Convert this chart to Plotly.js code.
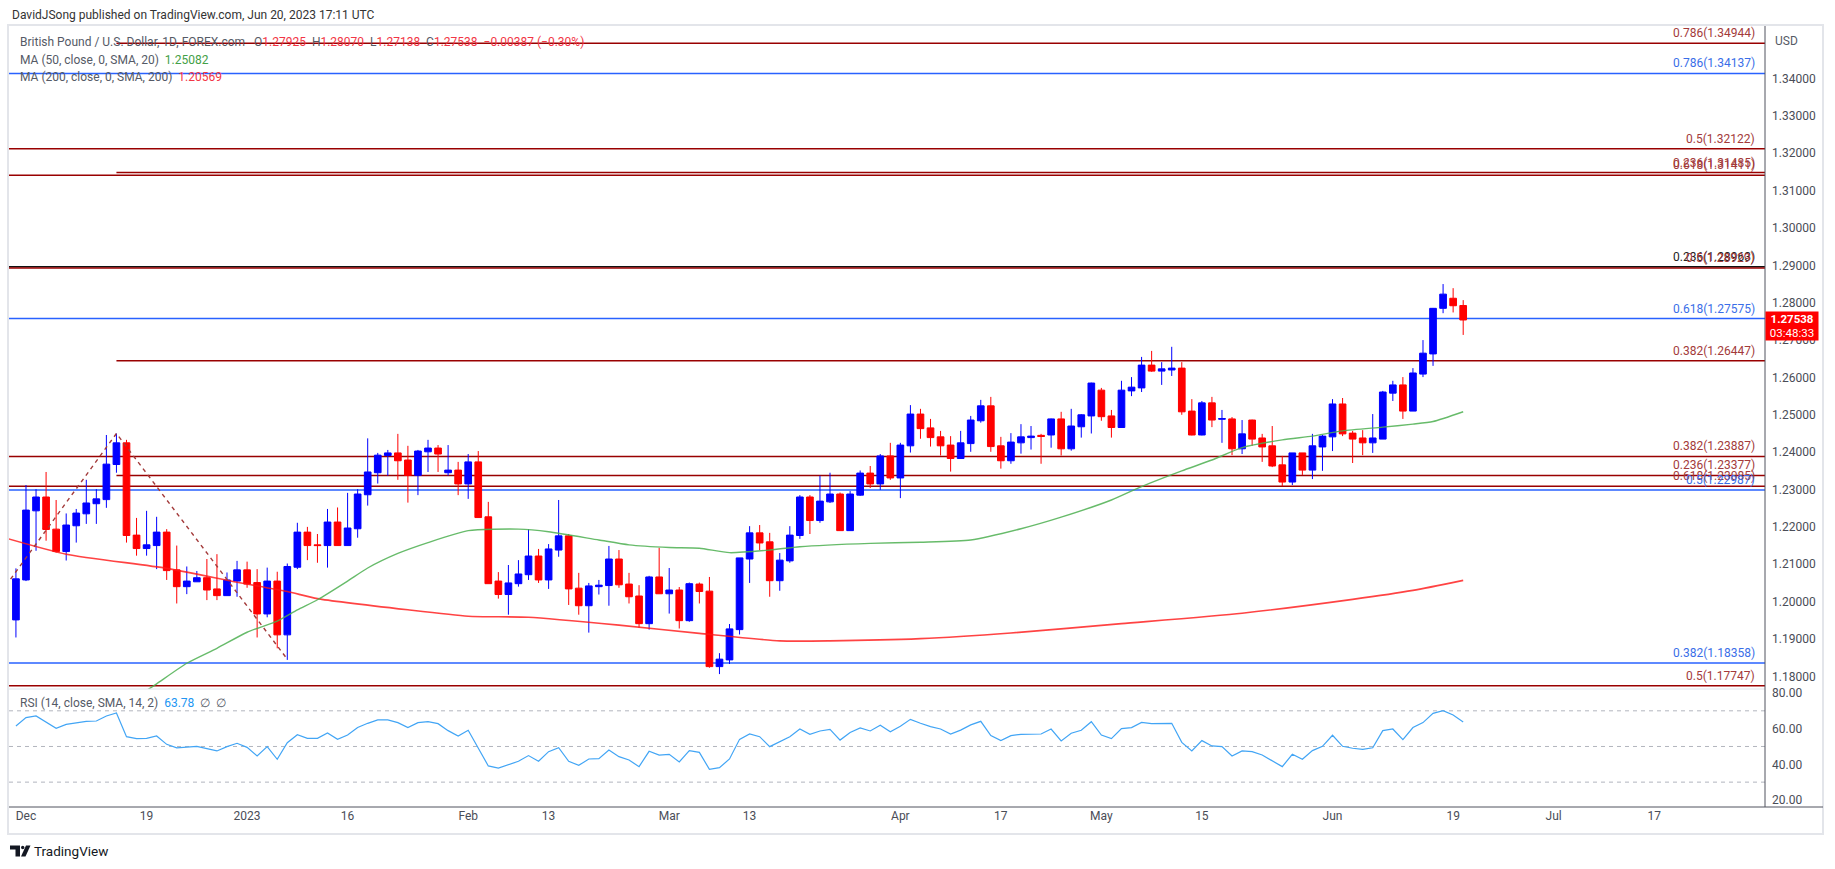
<!DOCTYPE html>
<html><head><meta charset="utf-8">
<script src="https://cdn.plot.ly/plotly-3.0.1.min.js"></script>
<style>html,body{margin:0;padding:0;background:#fff;}#chart{width:1835px;height:869px;}</style>
</head><body><div id="chart"></div>
<script>
// ---------------- DATA ----------------
const dates = ['2022-11-30',
'2022-12-01','2022-12-02','2022-12-05','2022-12-06','2022-12-07','2022-12-08','2022-12-09','2022-12-12','2022-12-13','2022-12-14','2022-12-15','2022-12-16','2022-12-19','2022-12-20','2022-12-21','2022-12-22','2022-12-23','2022-12-26','2022-12-27','2022-12-28','2022-12-29','2022-12-30',
'2023-01-02','2023-01-03','2023-01-04','2023-01-05','2023-01-06','2023-01-09','2023-01-10','2023-01-11','2023-01-12','2023-01-13','2023-01-16','2023-01-17','2023-01-18','2023-01-19','2023-01-20','2023-01-23','2023-01-24','2023-01-25','2023-01-26','2023-01-27','2023-01-30','2023-01-31',
'2023-02-01','2023-02-02','2023-02-03','2023-02-06','2023-02-07','2023-02-08','2023-02-09','2023-02-10','2023-02-13','2023-02-14','2023-02-15','2023-02-16','2023-02-17','2023-02-20','2023-02-21','2023-02-22','2023-02-23','2023-02-24','2023-02-27','2023-02-28',
'2023-03-01','2023-03-02','2023-03-03','2023-03-06','2023-03-07','2023-03-08','2023-03-09','2023-03-10','2023-03-13','2023-03-14','2023-03-15','2023-03-16','2023-03-17','2023-03-20','2023-03-21','2023-03-22','2023-03-23','2023-03-24','2023-03-27','2023-03-28','2023-03-29','2023-03-30','2023-03-31',
'2023-04-03','2023-04-04','2023-04-05','2023-04-06','2023-04-07','2023-04-10','2023-04-11','2023-04-12','2023-04-13','2023-04-14','2023-04-17','2023-04-18','2023-04-19','2023-04-20','2023-04-21','2023-04-24','2023-04-25','2023-04-26','2023-04-27','2023-04-28',
'2023-05-01','2023-05-02','2023-05-03','2023-05-04','2023-05-05','2023-05-08','2023-05-09','2023-05-10','2023-05-11','2023-05-12','2023-05-15','2023-05-16','2023-05-17','2023-05-18','2023-05-19','2023-05-22','2023-05-23','2023-05-24','2023-05-25','2023-05-26','2023-05-29','2023-05-30','2023-05-31',
'2023-06-01','2023-06-02','2023-06-05','2023-06-06','2023-06-07','2023-06-08','2023-06-09','2023-06-12','2023-06-13','2023-06-14','2023-06-15','2023-06-16','2023-06-19','2023-06-20'];

const opens = [1.1951,
1.2058,1.2243,1.2280,1.2194,1.2134,1.2203,1.2235,1.2262,1.2273,1.2367,1.2425,1.2178,1.2142,1.2150,1.2186,1.2085,1.2040,1.2053,1.2064,1.2034,1.2016,1.2055,
1.2085,1.2051,1.1967,1.2055,1.1911,1.2092,1.2186,1.2152,1.2150,1.2213,1.2150,1.2195,1.2286,1.2345,1.2391,1.2398,1.2379,1.2338,1.2401,1.2411,1.2345,1.2352,
1.2315,1.2374,1.2227,1.2055,1.2019,1.2048,1.2072,1.2122,1.2058,1.2138,1.2176,1.2036,1.1989,1.2040,1.2043,1.2114,1.2047,1.2015,1.1941,1.2066,
1.2021,1.2031,1.1949,1.2047,1.2028,1.1826,1.1844,1.1925,1.2114,1.2184,1.2160,1.2056,1.2109,1.2177,1.2280,1.2217,1.2267,1.2288,1.2190,1.2285,1.2344,1.2315,1.2390,
1.2331,1.2417,1.2502,1.2465,1.2441,1.2419,1.2383,1.2423,1.2484,1.2524,1.2417,1.2377,1.2425,1.2439,1.2445,1.2446,1.2489,1.2409,1.2468,1.2497,
1.2566,1.2497,1.2466,1.2564,1.2572,1.2633,1.2617,1.2620,1.2625,1.2510,1.2446,1.2532,1.2488,1.2489,1.2409,1.2486,1.2438,1.2417,1.2366,1.2320,1.2398,1.2352,1.2414,
1.2441,1.2529,1.2451,1.2438,1.2425,1.2435,1.2558,1.2580,1.2510,1.2609,1.2663,1.2785,1.2812,1.27925];

const highs = [1.2089,
1.2312,1.2301,1.2347,1.2272,1.2236,1.2248,1.2326,1.2301,1.2446,1.2450,1.2433,1.2224,1.2243,1.2227,1.2194,1.2150,1.2094,1.2082,1.2114,1.2127,1.2078,1.2109,
1.2107,1.2087,1.2091,1.2080,1.2102,1.2211,1.2200,1.2181,1.2248,1.2252,1.2291,1.2301,1.2437,1.2398,1.2406,1.2449,1.2417,1.2406,1.2433,1.2419,1.2419,1.2374,
1.2395,1.2403,1.2267,1.2079,1.2098,1.2111,1.2194,1.2141,1.2154,1.2272,1.2181,1.2077,1.2050,1.2058,1.2149,1.2138,1.2077,1.2044,1.2069,1.2144,
1.2090,1.2039,1.2051,1.2051,1.2066,1.1862,1.1940,1.2117,1.2202,1.2205,1.2184,1.2130,1.2202,1.2285,1.2285,1.2337,1.2345,1.2292,1.2296,1.2351,1.2363,1.2395,1.2425,
1.2425,1.2526,1.2516,1.2489,1.2457,1.2443,1.2457,1.2497,1.2540,1.2548,1.2441,1.2451,1.2475,1.2470,1.2449,1.2490,1.2508,1.2516,1.2502,1.2586,
1.2572,1.2513,1.2591,1.2601,1.2655,1.2671,1.2641,1.2682,1.2641,1.2542,1.2537,1.2548,1.2513,1.2494,1.2486,1.2487,1.2449,1.2470,1.2390,1.2398,1.2398,1.2449,1.2446,
1.2542,1.2545,1.2457,1.2459,1.2502,1.2564,1.2591,1.2601,1.2625,1.2700,1.2786,1.2850,1.2839,1.28070];

const lows = [1.1904,
1.2055,1.2136,1.2163,1.2131,1.2110,1.2158,1.2208,1.2208,1.2251,1.2345,1.2158,1.2123,1.2123,1.2087,1.2058,1.1995,1.2020,1.2053,1.2004,1.2004,1.2016,1.2013,
1.2037,1.1904,1.1958,1.1875,1.1844,1.2087,1.2111,1.2104,1.2091,1.2149,1.2149,1.2171,1.2257,1.2316,1.2337,1.2326,1.2265,1.2285,1.2347,1.2347,1.2337,1.2285,
1.2275,1.2224,1.2048,1.2008,1.1965,1.2040,1.2058,1.2050,1.2034,1.2120,1.1991,1.1965,1.1917,1.2019,1.1989,1.2037,1.1995,1.1930,1.1925,1.2021,
1.1968,1.1928,1.1946,1.1995,1.1823,1.1806,1.1833,1.1912,1.2050,1.2138,1.2013,1.2029,1.2104,1.2168,1.2181,1.2211,1.2264,1.2190,1.2190,1.2283,1.2304,1.2299,1.2326,
1.2277,1.2399,1.2436,1.2415,1.2391,1.2348,1.2382,1.2401,1.2479,1.2401,1.2356,1.2369,1.2396,1.2407,1.2369,1.2412,1.2391,1.2404,1.2439,1.2450,
1.2484,1.2439,1.2465,1.2550,1.2561,1.2615,1.2580,1.2604,1.2500,1.2445,1.2445,1.2467,1.2425,1.2392,1.2395,1.2417,1.2374,1.2360,1.2309,1.2312,1.2339,1.2328,1.2350,
1.2403,1.2443,1.2371,1.2392,1.2398,1.2435,1.2537,1.2489,1.2510,1.2601,1.2631,1.2772,1.2774,1.27138];

const closes = [1.2061,
1.2245,1.2280,1.2193,1.2134,1.2205,1.2237,1.2264,1.2275,1.2368,1.2425,1.2177,1.2142,1.2152,1.2186,1.2083,1.2040,1.2055,1.2064,1.2031,1.2016,1.2058,1.2085,
1.2047,1.1967,1.2055,1.1911,1.2094,1.2186,1.2150,1.2150,1.2213,1.2150,1.2197,1.2288,1.2347,1.2392,1.2398,1.2377,1.2338,1.2403,1.2411,1.2395,1.2352,1.2315,
1.2374,1.2225,1.2048,1.2019,1.2050,1.2074,1.2122,1.2058,1.2141,1.2176,1.2034,1.1989,1.2042,1.2044,1.2114,1.2045,1.2013,1.1941,1.2066,1.2021,
1.2031,1.1949,1.2048,1.2027,1.1826,1.1846,1.1927,1.2117,1.2184,1.2157,1.2056,1.2111,1.2178,1.2280,1.2217,1.2269,1.2288,1.2190,1.2288,1.2344,1.2315,1.2390,1.2331,
1.2419,1.2502,1.2463,1.2439,1.2417,1.2383,1.2425,1.2486,1.2524,1.2415,1.2377,1.2427,1.2441,1.2443,1.2442,1.2489,1.2409,1.2470,1.2500,1.2585,
1.2495,1.2466,1.2566,1.2574,1.2633,1.2617,1.2623,1.2625,1.2508,1.2446,1.2532,1.2486,1.2490,1.2409,1.2449,1.2435,1.2414,1.2363,1.2320,1.2398,1.2352,1.2417,1.2443,
1.2529,1.2449,1.2435,1.2425,1.2438,1.2561,1.2580,1.2510,1.2612,1.2665,1.2785,1.2823,1.2792,1.27538];

const rsiValues = [61.5,
66.2,67.1,63.4,60.2,62.4,63.4,64.1,64.3,67.1,68.8,55.5,54.4,54.6,55.9,51.2,49.2,49.5,50.1,48.8,47.5,49.9,51.8,
49.5,44.7,49.9,42.8,52.1,56.6,54.6,54.6,57.6,54.0,56.4,60.7,63.0,64.9,64.9,63.4,60.6,63.4,63.9,62.8,58.9,55.9,
59.1,49.0,39.1,37.9,39.8,41.7,44.9,41.7,47.1,49.3,41.7,39.4,43.0,43.2,48.0,44.3,42.4,38.7,47.3,45.2,
45.6,41.3,47.7,46.7,37.2,38.1,43.0,54.0,57.0,55.5,49.9,52.5,55.5,59.8,56.8,58.7,59.6,53.6,57.9,60.4,58.7,61.9,58.3,
61.3,65.2,63.0,61.1,59.8,57.0,59.2,62.1,64.1,56.1,53.3,56.1,56.8,57.0,57.0,59.8,53.1,57.4,59.1,63.9,
56.4,54.4,60.0,60.6,63.5,62.8,62.8,63.0,52.3,47.5,53.3,50.3,49.9,44.7,47.5,47.1,45.2,41.9,38.7,45.6,42.8,47.7,50.1,
56.3,50.1,49.0,48.4,49.3,58.9,59.8,53.8,60.6,63.4,68.6,70.1,67.7,63.78];

const ma50Dates = ['2022-12-19','2022-12-20','2022-12-23','2022-12-28','2023-01-02','2023-01-05','2023-01-09','2023-01-11','2023-01-16','2023-01-18','2023-01-23','2023-01-26','2023-02-01','2023-02-08','2023-02-13','2023-02-20','2023-02-23','2023-03-01','2023-03-06','2023-03-09','2023-03-15','2023-03-20','2023-03-29','2023-04-05','2023-04-12','2023-04-19','2023-04-25','2023-05-02','2023-05-05','2023-05-11','2023-05-16','2023-05-19','2023-05-25','2023-05-30','2023-06-02','2023-06-08','2023-06-13','2023-06-15','2023-06-20'];
const ma50Values = [1.1762,1.1780,1.1835,1.1875,1.1918,1.1948,1.1978,1.2005,1.2055,1.2090,1.2129,1.2158,1.2190,1.2194,1.2187,1.2165,1.2152,1.2145,1.2143,1.2131,1.2138,1.2147,1.2156,1.2159,1.2165,1.2195,1.2226,1.2272,1.2308,1.2350,1.2379,1.2412,1.2433,1.2443,1.2457,1.2467,1.2475,1.2482,1.25082];

const ma200Dates = ['2022-11-29','2022-12-07','2022-12-21','2022-12-30','2023-01-06','2023-01-11','2023-01-24','2023-02-01','2023-02-09','2023-02-22','2023-03-06','2023-03-16','2023-03-23','2023-04-05','2023-04-18','2023-05-03','2023-05-19','2023-06-05','2023-06-13','2023-06-20'];
const ma200Values = [1.2170,1.2127,1.2089,1.2052,1.2027,1.2008,1.1978,1.1961,1.1958,1.1937,1.1915,1.1895,1.1895,1.1901,1.1916,1.1941,1.1969,1.2006,1.2030,1.20569];

const trendDates = ['2022-11-29','2022-12-14','2023-01-06'];
const trendValues = [1.2043,1.2450,1.1846];

const fibLevels = [1.34944,1.34137,1.32122,1.31485,1.31411,1.28963,1.28929,1.27575,1.26447,1.23887,1.23377,1.23085,1.22987,1.18358,1.17747];
const fibRatios = ['0.786','0.786','0.5','0.236','0.618','0.236','0.5','0.618','0.382','0.382','0.236','0.618','0.5','0.382','0.5'];
const fibKinds  = ['red','blue','red','red','red','black','red','blue','red','red','red','red','blue','blue','red'];
const fibStarts = ['2022-12-14',null,null,'2022-12-14',null,null,null,null,'2022-12-14',null,'2022-12-14',null,null,null,null];

const tickDates  = ['2022-12-01','2022-12-19','2023-01-02','2023-01-16','2023-02-01','2023-02-13','2023-03-01','2023-03-13','2023-04-03','2023-04-17','2023-05-01','2023-05-15','2023-06-01','2023-06-19','2023-07-03','2023-07-17'];
const tickLabels = ['Dec','19','2023','16','Feb','13','Mar','13','Apr','17','May','15','Jun','19','Jul','17'];

const priceTicks = [1.18,1.19,1.20,1.21,1.22,1.23,1.24,1.25,1.26,1.27,1.28,1.29,1.30,1.31,1.32,1.33,1.34];
const rsiTicks = [20,40,60,80];
const rsiBands = [70,50,30];

// ---------------- HELPERS ----------------
function tradingIndex(s){
  const base = Date.UTC(2022,11,1);
  const p = s.split('-').map(Number);
  const t = Date.UTC(p[0],p[1]-1,p[2]);
  let n = 0;
  if (t >= base){ for(let u=base; u<t; u+=86400000){ const w=new Date(u).getUTCDay(); if(w!==0&&w!==6) n++; } }
  else { for(let u=t; u<base; u+=86400000){ const w=new Date(u).getUTCDay(); if(w!==0&&w!==6) n--; } }
  return n;
}
const W=1835,H=869,ML=9,MR=70,MT=26,MB=62;
const PW=W-ML-MR, PH=H-MT-MB;
function px(x){ return (x-ML)/PW; }
function py(y){ return 1-(y-MT)/PH; }
const XMIN=-1.69, XMAX=173.03;
const SPLIT=(807-689)/PH;

const RED_LINE='#990000', RED_TXT='#a33a3a', BLUE_LINE='#2962ff', BLUE_TXT='#3a6ee8', BLACK='#111111';
const lineCol={red:RED_LINE,blue:BLUE_LINE,black:BLACK};
const txtCol={red:RED_TXT,blue:BLUE_TXT,black:'#222222'};

const xs = dates.map(tradingIndex);

const traces = [
  {type:'candlestick', x:xs, open:opens, high:highs, low:lows, close:closes, xaxis:'x', yaxis:'y',
   increasing:{line:{color:'#0000ff',width:1},fillcolor:'#0000ff'},
   decreasing:{line:{color:'#ff0000',width:1},fillcolor:'#ff0000'},
   whiskerwidth:0, hoverinfo:'skip', showlegend:false},
  {type:'scatter', mode:'lines', x:ma200Dates.map(tradingIndex), y:ma200Values, xaxis:'x', yaxis:'y',
   line:{color:'rgba(255,20,20,0.8)',width:1.6,shape:'spline',smoothing:0.6}, hoverinfo:'skip', showlegend:false},
  {type:'scatter', mode:'lines', x:ma50Dates.map(tradingIndex), y:ma50Values, xaxis:'x', yaxis:'y',
   line:{color:'rgba(76,175,80,0.85)',width:1.4,shape:'spline',smoothing:0.6}, hoverinfo:'skip', showlegend:false},
  {type:'scatter', mode:'lines', x:trendDates.map(tradingIndex), y:trendValues, xaxis:'x', yaxis:'y',
   line:{color:'#a33a3a',width:1.4,dash:'4px,4px'}, hoverinfo:'skip', showlegend:false},
  {type:'scatter', mode:'lines', x:xs, y:rsiValues, xaxis:'x', yaxis:'y2',
   line:{color:'#42a5f5',width:1.2}, hoverinfo:'skip', showlegend:false}
];

const shapes = [];
const annotations = [];
// outer frame
shapes.push({type:'rect', xref:'paper', yref:'paper', x0:px(8), x1:px(1823), y0:py(25), y1:py(834), line:{color:'#e3e5ea',width:2}, layer:'below'});
// fib lines and labels
fibLevels.forEach((lv,i)=>{
  const k=fibKinds[i];
  shapes.push({type:'line', xref:'x', yref:'y', x0: fibStarts[i]?tradingIndex(fibStarts[i]):XMIN, x1:XMAX, y0:lv, y1:lv,
    line:{color:lineCol[k], width:1.5}, layer:'below'});
  annotations.push({xref:'paper', yref:'y', x:px(1757), y:lv, xanchor:'right', yanchor:'bottom', yshift:1,
    text: fibRatios[i]+'('+lv.toFixed(5)+')', showarrow:false, font:{family:'Roboto, sans-serif', size:12, color:txtCol[k]}});
});
// rsi bands
rsiBands.forEach(v=>{
  shapes.push({type:'line', xref:'x', yref:'y2', x0:XMIN, x1:XMAX, y0:v, y1:v, line:{color:'#b2b5be',width:1,dash:'4px,4px'}, layer:'below'});
});
// pane separator, axis lines
shapes.push({type:'line', xref:'paper', yref:'paper', x0:px(9), x1:px(1765), y0:py(689), y1:py(689), line:{color:'#e0e3eb',width:1}});
shapes.push({type:'line', xref:'paper', yref:'paper', x0:px(1765), x1:px(1765), y0:py(26), y1:py(807), line:{color:'#50535e',width:1}});
shapes.push({type:'line', xref:'paper', yref:'paper', x0:px(9), x1:px(1823), y0:py(807), y1:py(807), line:{color:'#50535e',width:1}});
// TradingView logo mark
const LOGO='#131722';
function pp(x,y){ return px(x).toFixed(6)+','+py(y).toFixed(6); }
shapes.push({type:'path', xref:'paper', yref:'paper', fillcolor:LOGO, line:{width:0},
  path:'M'+pp(10,845.5)+' L'+pp(20,845.5)+' L'+pp(20,856.5)+' L'+pp(15.5,856.5)+' L'+pp(15.5,849.5)+' L'+pp(10,849.5)+' Z'});
shapes.push({type:'circle', xref:'paper', yref:'paper', fillcolor:LOGO, line:{width:0},
  x0:px(21),x1:px(24.4),y0:py(845.8),y1:py(849.2)});
shapes.push({type:'path', xref:'paper', yref:'paper', fillcolor:LOGO, line:{width:0},
  path:'M'+pp(26,845.5)+' L'+pp(30.5,845.5)+' L'+pp(25.5,856.5)+' L'+pp(21,856.5)+' Z'});

const F='Roboto, sans-serif';
const G='#555a66';
function ann(x,y,text,size,extra){ return Object.assign({xref:'paper',yref:'paper',x:px(x),y:py(y),xanchor:'left',yanchor:'middle',text:text,showarrow:false,font:{family:F,size:size||12,color:G}},extra||{}); }
annotations.push(ann(10,15,'DavidJSong published on TradingView.com, Jun 20, 2023 17:11 UTC',12,{font:{family:F,size:12,color:'#333'}}));
const R='#f23645';
annotations.push(ann(18,42,'British Pound / U.S. Dollar, 1D, FOREX.com&nbsp;&nbsp; O<span style="color:'+R+'">1.27925</span>&nbsp; H<span style="color:'+R+'">1.28070</span>&nbsp; L<span style="color:'+R+'">1.27138</span>&nbsp; C<span style="color:'+R+'">1.27538</span>&nbsp; <span style="color:'+R+'">−0.00387 (−0.30%)</span>'));
annotations.push(ann(18,60,'MA (50, close, 0, SMA, 20)&nbsp; <span style="color:#43a047">1.25082</span>'));
annotations.push(ann(18,77,'MA (200, close, 0, SMA, 200)&nbsp; <span style="color:'+R+'">1.20569</span>'));
annotations.push(ann(18,703,'RSI (14, close, SMA, 14, 2)&nbsp; <span style="color:#2196f3">63.78</span>&nbsp; ∅&nbsp; ∅'));
annotations.push(ann(1773,41,'USD',12));
annotations.push({xref:'paper',yref:'paper',x:px(1765),y:py(311),xanchor:'left',yanchor:'top',
  text:'<b>1.27538</b><br>03:48:33',showarrow:false,bgcolor:'#ff0000',width:50,height:26,align:'center',
  font:{family:F,size:11.5,color:'#ffffff'},borderpad:1});
annotations.push(ann(32,851,'TradingView',13.5,{font:{family:F,size:13.5,color:LOGO}}));

const layout = {
  width:W, height:H, margin:{l:ML,r:MR,t:MT,b:MB,pad:0},
  paper_bgcolor:'#ffffff', plot_bgcolor:'#ffffff', showlegend:false,
  boxgap:0.2, boxgroupgap:0.17,
  xaxis:{anchor:'y2', range:[XMIN,XMAX], showgrid:false, zeroline:false, showline:false,
    tickmode:'array', tickvals:tickDates.map(tradingIndex), ticktext:tickLabels, ticks:'',
    tickfont:{family:F,size:12,color:'#4a4d57'}, rangeslider:{visible:false}, fixedrange:true},
  yaxis:{domain:[SPLIT,1], range:[1.17661,1.35407], side:'right', anchor:'x', showgrid:false, zeroline:false,
    showline:false, tickmode:'array', tickvals:priceTicks, tickformat:'.5f', ticks:'', ticklabelstandoff:6,
    tickfont:{family:F,size:12,color:'#4a4d57'}, fixedrange:true},
  yaxis2:{domain:[0,SPLIT], range:[16.06,82.24], side:'right', anchor:'x', showgrid:false, zeroline:false,
    showline:false, tickmode:'array', tickvals:rsiTicks, tickformat:'.2f', ticks:'', ticklabelstandoff:6,
    tickfont:{family:F,size:12,color:'#4a4d57'}, fixedrange:true},
  shapes:shapes, annotations:annotations
};
Plotly.newPlot('chart', traces, layout, {staticPlot:true, displayModeBar:false});
</script></body></html>
